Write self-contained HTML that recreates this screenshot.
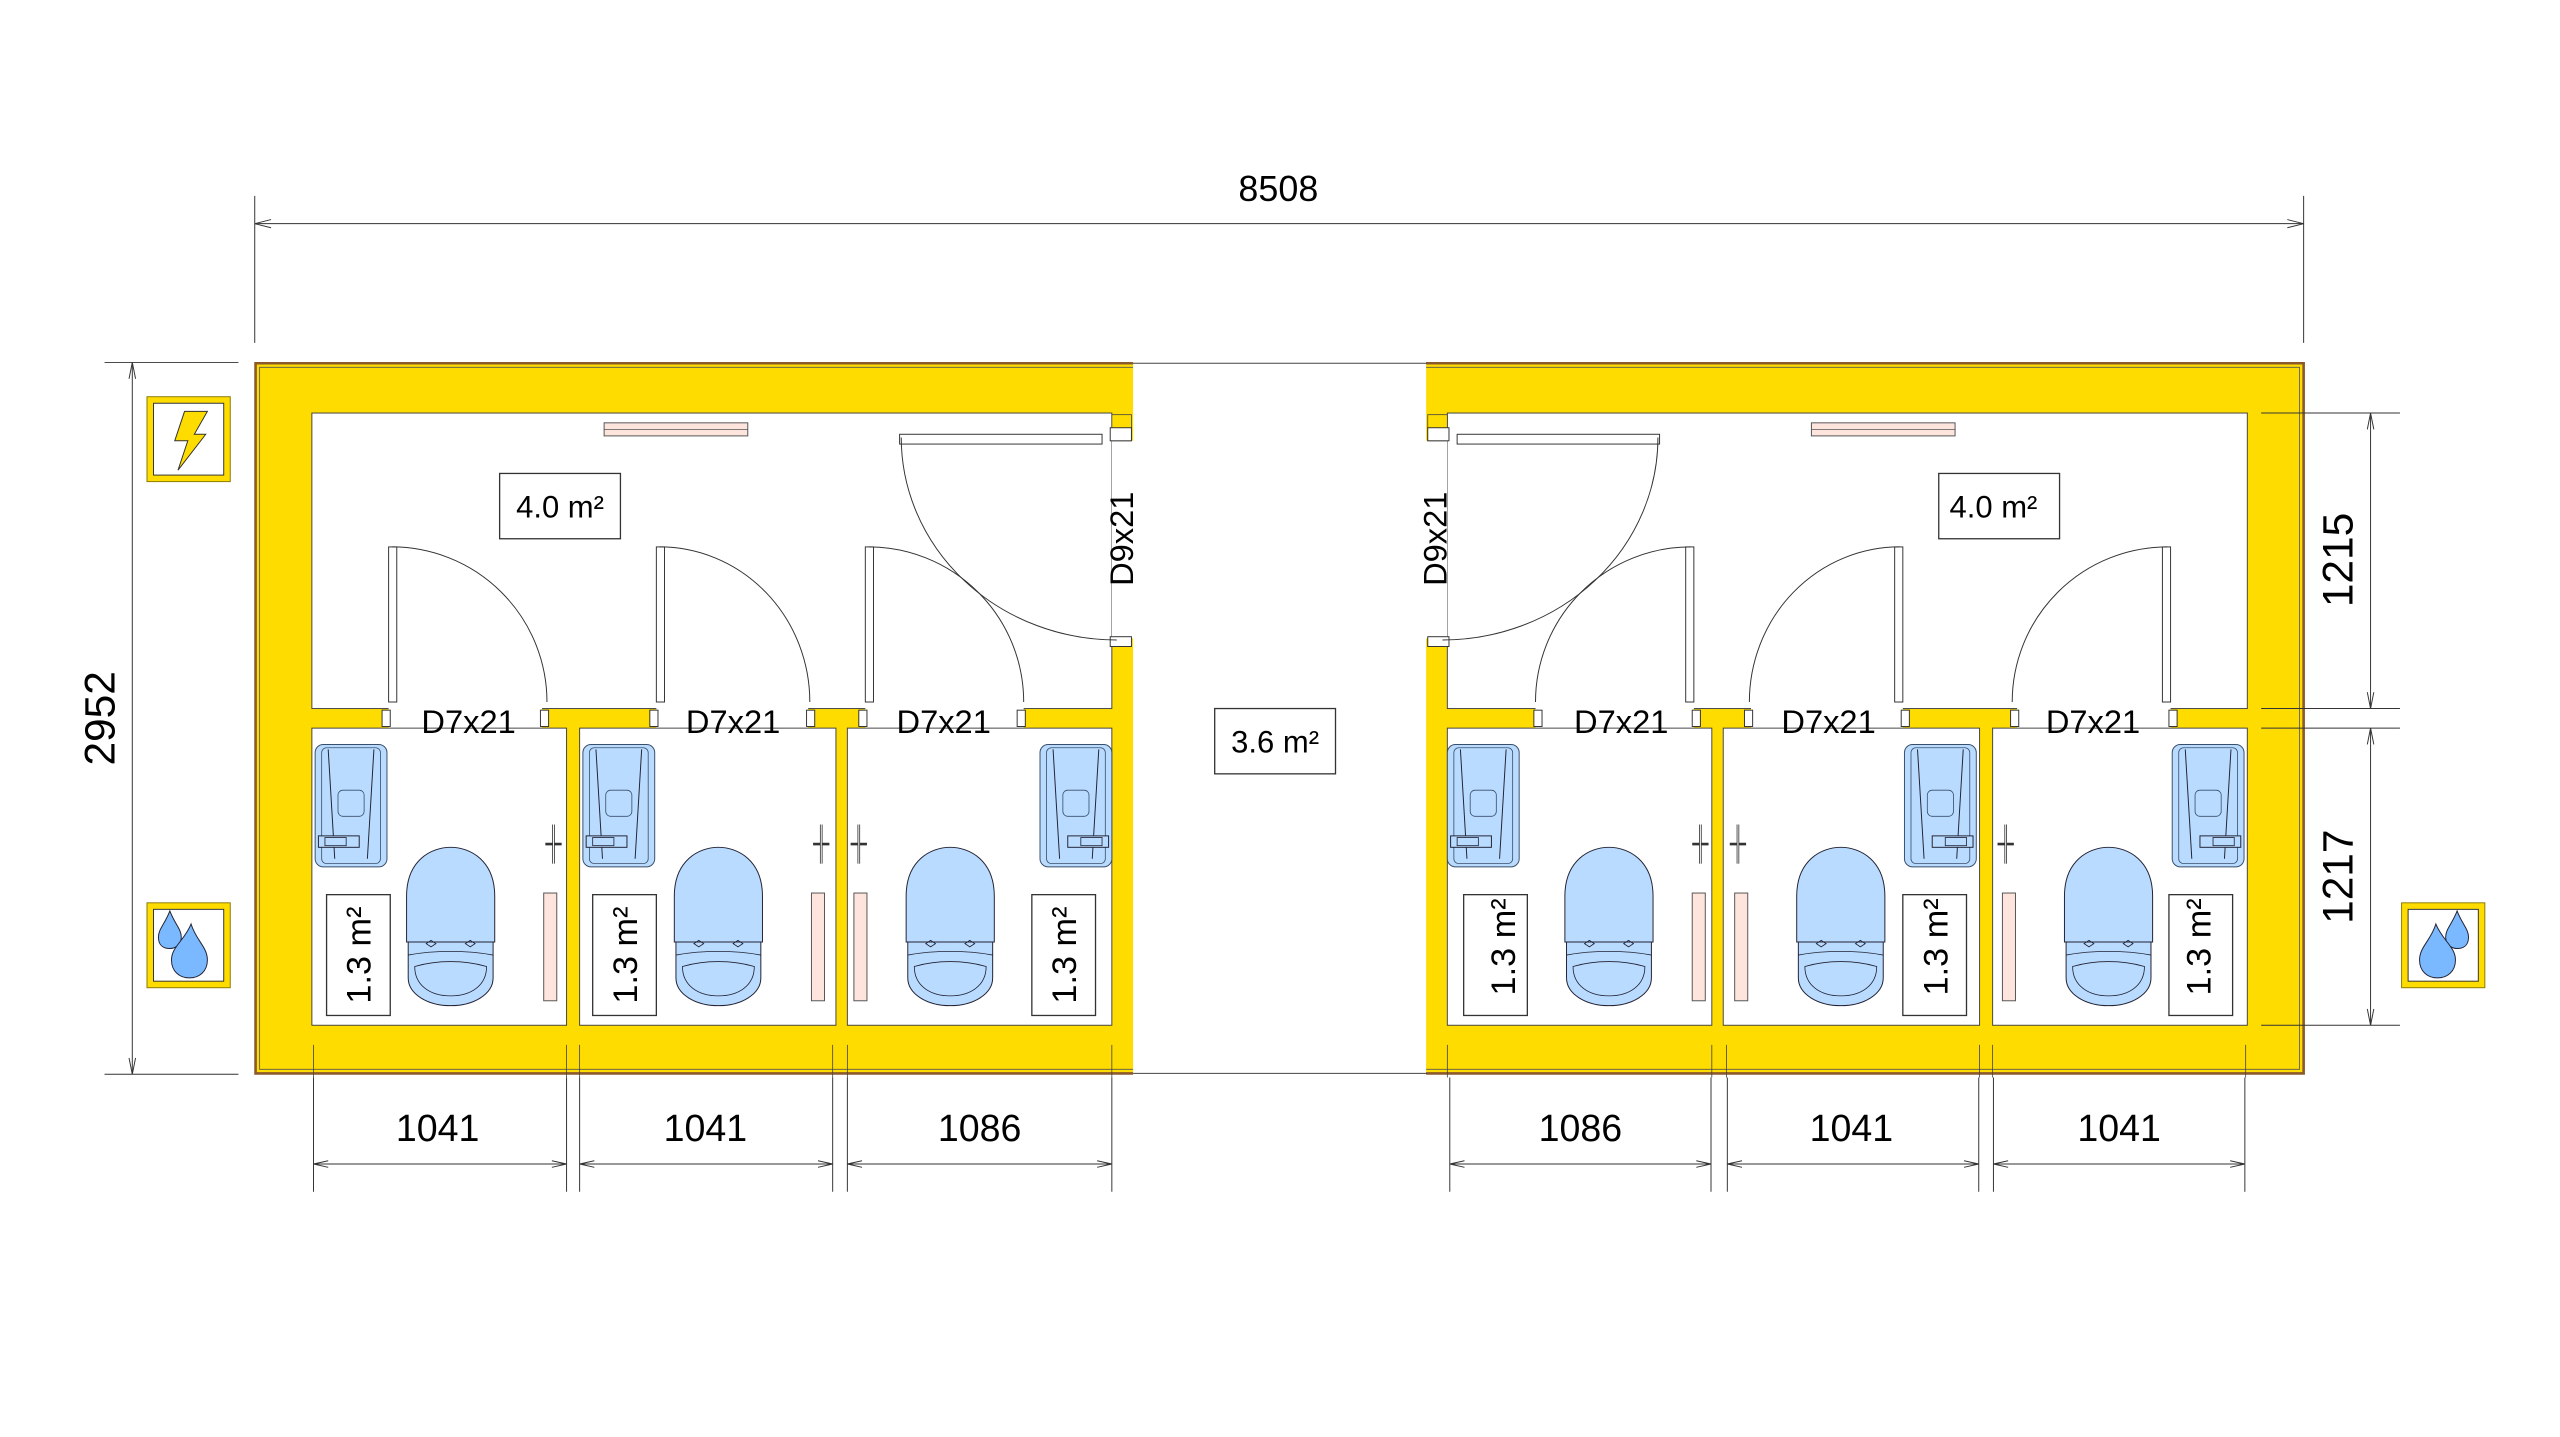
<!DOCTYPE html>
<html><head><meta charset="utf-8">
<style>
html,body{margin:0;padding:0;background:#fff;}
svg{display:block;}
text{font-family:"Liberation Sans",Arial,sans-serif;fill:#000;}
</style></head>
<body>
<svg width="2560" height="1437" viewBox="0 0 1568 880.2" xmlns="http://www.w3.org/2000/svg">
<defs>
  <g id="sink">
    <rect x="0" y="0" width="44" height="75" rx="5" fill="#b9dbff" stroke="#3a4f6a" stroke-width="0.6"/>
    <rect x="4" y="2" width="36" height="71" rx="3" fill="none" stroke="#3a4f6a" stroke-width="0.5"/>
    <path d="M8 3 L12 70 M36 3 L32 70" stroke="#223" stroke-width="0.6" fill="none"/>
    <rect x="14" y="28" width="16" height="16" rx="3" fill="#b9dbff" stroke="#3a4f6a" stroke-width="0.5"/>
    <rect x="2" y="56" width="25" height="7" fill="#b9dbff" stroke="#223" stroke-width="0.6"/>
    <rect x="6" y="57" width="13" height="5" fill="none" stroke="#223" stroke-width="0.5"/>
  </g>
  <g id="toilet">
    <path d="M-27 58 L-27 30 C-27 8 -12 0 0 0 C12 0 27 8 27 30 L27 58 Z" fill="#b9dbff" stroke="#223" stroke-width="0.6"/>
    <path d="M-26 58 L26 58 L26 80 C26 90 14 97 0 97 C-14 97 -26 90 -26 80 Z" fill="#b9dbff" stroke="#223" stroke-width="0.6"/>
    <path d="M-26 66 C-10 63 10 63 26 66" fill="none" stroke="#223" stroke-width="0.5"/>
    <path d="M-22 73 C-8 69 8 69 22 73 C22 85 12 91 0 91 C-12 91 -22 85 -22 73 Z" fill="none" stroke="#223" stroke-width="0.5"/>
    <path d="M-15 59 l3 -2 l3 2 l-3 2 z M9 59 l3 -2 l3 2 l-3 2 z" fill="none" stroke="#223" stroke-width="0.5"/>
  </g>
  <g id="hook">
    <path d="M0 -12 L0 12 M-5 0 L5 0" stroke="#333" stroke-width="1.6" fill="none"/>
    <path d="M0 -12 L0 12" stroke="#fff" stroke-width="0.6"/>
  </g>
  <g id="bldg">
    <rect x="156" y="222" width="538" height="436" fill="#ffdc00"/>
    <path d="M694 222.5 L156.5 222.5 L156.5 657.5 L694 657.5" fill="none" stroke="#8b5a2b" stroke-width="1.6"/>
    <path d="M694 225 L159 225 L159 655 L694 655" fill="none" stroke="#555" stroke-width="0.5"/>
    <rect x="191" y="253" width="490" height="181" fill="#fff" stroke="#444" stroke-width="0.6"/>
    <rect x="681" y="270" width="14" height="121" fill="#fff"/>
    <rect x="681" y="254" width="12" height="16" fill="#ffdc00" stroke="#444" stroke-width="0.5"/>
    <rect x="680" y="262" width="13" height="8" fill="#fff" stroke="#333" stroke-width="0.6"/>
    <rect x="680" y="390" width="13" height="6" fill="#fff" stroke="#333" stroke-width="0.6"/>
    <rect x="238" y="433" width="94" height="14" fill="#fff"/>
    <rect x="402" y="433" width="93" height="14" fill="#fff"/>
    <rect x="530" y="433" width="97" height="14" fill="#fff"/>
    <rect x="234" y="435" width="5" height="10" fill="#fff" stroke="#333" stroke-width="0.6"/>
    <rect x="331" y="435" width="5" height="10" fill="#fff" stroke="#333" stroke-width="0.6"/>
    <rect x="398" y="435" width="5" height="10" fill="#fff" stroke="#333" stroke-width="0.6"/>
    <rect x="494" y="435" width="5" height="10" fill="#fff" stroke="#333" stroke-width="0.6"/>
    <rect x="526" y="435" width="5" height="10" fill="#fff" stroke="#333" stroke-width="0.6"/>
    <rect x="623" y="435" width="5" height="10" fill="#fff" stroke="#333" stroke-width="0.6"/>
    <rect x="191" y="446" width="156" height="182" fill="#fff" stroke="#444" stroke-width="0.6"/>
    <rect x="355" y="446" width="157" height="182" fill="#fff" stroke="#444" stroke-width="0.6"/>
    <rect x="519" y="446" width="162" height="182" fill="#fff" stroke="#444" stroke-width="0.6"/>
    <path d="M192 640 V660 M347 640 V660 M355 640 V660 M510 640 V660 M519 640 V660 M681 640 V660" stroke="#444" stroke-width="0.5"/>
    <rect x="370" y="259" width="88" height="8" fill="#fde4dc" stroke="#555" stroke-width="0.6"/>
    <line x1="370" y1="263" x2="458" y2="263" stroke="#555" stroke-width="0.4"/>
    <rect x="238" y="335" width="5" height="95" fill="#fff" stroke="#333" stroke-width="0.6"/>
    <path d="M240 335 A95 95 0 0 1 335 430" fill="none" stroke="#333" stroke-width="0.6"/>
    <rect x="402" y="335" width="5" height="95" fill="#fff" stroke="#333" stroke-width="0.6"/>
    <path d="M404 335 A92 95 0 0 1 496 430" fill="none" stroke="#333" stroke-width="0.6"/>
    <rect x="530" y="335" width="5" height="95" fill="#fff" stroke="#333" stroke-width="0.6"/>
    <path d="M532 335 A95 95 0 0 1 627 430" fill="none" stroke="#333" stroke-width="0.6"/>
    <rect x="551" y="266" width="124" height="6" fill="#fff" stroke="#333" stroke-width="0.6"/>
    <path d="M552 268 A132 124 0 0 0 684 392" fill="none" stroke="#333" stroke-width="0.6"/>
    <use href="#sink" x="193" y="456"/>
    <use href="#sink" x="357" y="456"/>
    <g transform="translate(681 456) scale(-1 1)"><use href="#sink"/></g>
    <use href="#toilet" x="276" y="519"/>
    <use href="#toilet" x="440" y="519"/>
    <use href="#toilet" x="582" y="519"/>
    <use href="#hook" x="339" y="517"/>
    <use href="#hook" x="503" y="517"/>
    <use href="#hook" x="526" y="517"/>
    <rect x="333" y="547" width="8" height="66" fill="#fde4dc" stroke="#555" stroke-width="0.6"/>
    <rect x="497" y="547" width="8" height="66" fill="#fde4dc" stroke="#555" stroke-width="0.6"/>
    <rect x="523" y="547" width="8" height="66" fill="#fde4dc" stroke="#555" stroke-width="0.6"/>
    <rect x="306" y="290" width="74" height="40" fill="#fff" stroke="#333" stroke-width="0.8"/>
    <rect x="200" y="548" width="39" height="74" fill="#fff" stroke="#333" stroke-width="0.8"/>
    <rect x="363" y="548" width="39" height="74" fill="#fff" stroke="#333" stroke-width="0.8"/>
    <rect x="632" y="548" width="39" height="74" fill="#fff" stroke="#333" stroke-width="0.8"/>
  </g>
  <g id="drop">
    <path d="M-9 -10 C-12 -2 -16 1 -16 6 C-16 11 -13 13 -9 13 C-5 13 -2 10 -2 6 C-2 1 -6 -2 -9 -10 Z" fill="#7ab8ff" stroke="#223" stroke-width="0.6"/>
    <path d="M4 -2 C0 8 -8 12 -8 20 C-8 27 -3 31 3 31 C9 31 14 27 14 20 C14 12 7 8 4 -2 Z" fill="#7ab8ff" stroke="#223" stroke-width="0.6"/>
  </g>
</defs>

<use href="#bldg"/>
<g transform="matrix(-1 0 0 1 1567.5 0)"><use href="#bldg"/></g>

<path d="M694 222.5 H874 M694 657.5 H874" stroke="#444" stroke-width="0.6"/>

<path d="M156 120 V210 M1411 120 V210 M156 137 H1411" stroke="#333" stroke-width="0.6" fill="none"/>
<path d="M156 137 l10 -2.5 M156 137 l10 2.5 M1411 137 l-10 -2.5 M1411 137 l-10 2.5" stroke="#333" stroke-width="0.6"/>
<text x="783" y="123" font-size="22" text-anchor="middle">8508</text>

<path d="M64 222 H146 M64 658 H146 M81 222 V658" stroke="#333" stroke-width="0.6" fill="none"/>
<path d="M81 222 l-2 10 M81 222 l2 10 M81 658 l-2 -10 M81 658 l2 -10" stroke="#333" stroke-width="0.6"/>
<text transform="translate(70 440) rotate(-90)" font-size="26" text-anchor="middle">2952</text>

<path d="M1385 253 H1470 M1385 434 H1470 M1385 446 H1470 M1385 628 H1470 M1452 253 V434 M1452 446 V628" stroke="#333" stroke-width="0.6" fill="none"/>
<path d="M1452 253 l-2 10 M1452 253 l2 10 M1452 434 l-2 -10 M1452 434 l2 -10 M1452 446 l-2 10 M1452 446 l2 10 M1452 628 l-2 -10 M1452 628 l2 -10" stroke="#333" stroke-width="0.6"/>
<text transform="translate(1441 343) rotate(-90)" font-size="26" text-anchor="middle">1215</text>
<text transform="translate(1441 537) rotate(-90)" font-size="26" text-anchor="middle">1217</text>

<g stroke="#333" stroke-width="0.6" fill="none">
<path d="M192 660 V730 M347 660 V730 M355 660 V730 M510 660 V730 M519 660 V730 M681 660 V730"/>
<path d="M888 660 V730 M1048 660 V730 M1058 660 V730 M1212 660 V730 M1221 660 V730 M1375 660 V730"/>
<path d="M192 713 H347 M355 713 H510 M519 713 H681 M888 713 H1048 M1058 713 H1212 M1221 713 H1375"/>
<path d="M192 713 l9 -2 M192 713 l9 2 M347 713 l-9 -2 M347 713 l-9 2 M355 713 l9 -2 M355 713 l9 2 M510 713 l-9 -2 M510 713 l-9 2 M519 713 l9 -2 M519 713 l9 2 M681 713 l-9 -2 M681 713 l-9 2"/>
<path d="M888 713 l9 -2 M888 713 l9 2 M1048 713 l-9 -2 M1048 713 l-9 2 M1058 713 l9 -2 M1058 713 l9 2 M1212 713 l-9 -2 M1212 713 l-9 2 M1221 713 l9 -2 M1221 713 l9 2 M1375 713 l-9 -2 M1375 713 l-9 2"/>
</g>
<g font-size="23" text-anchor="middle">
<text x="268" y="699">1041</text>
<text x="432" y="699">1041</text>
<text x="600" y="699">1086</text>
<text x="968" y="699">1086</text>
<text x="1134" y="699">1041</text>
<text x="1298" y="699">1041</text>
</g>

<g font-size="19" text-anchor="middle">
<text x="343" y="317">4.0 m²</text>
<text x="1221" y="317">4.0 m²</text>
</g>
<rect x="744" y="434" width="74" height="40" fill="#fff" stroke="#333" stroke-width="0.8"/>
<text x="781" y="461" font-size="19" text-anchor="middle">3.6 m²</text>

<g font-size="20" text-anchor="middle">
<text x="287" y="449">D7x21</text>
<text x="449" y="449">D7x21</text>
<text x="578" y="449">D7x21</text>
<text x="993" y="449">D7x21</text>
<text x="1120" y="449">D7x21</text>
<text x="1282" y="449">D7x21</text>
</g>
<text transform="translate(694 330) rotate(-90)" font-size="20" text-anchor="middle">D9x21</text>
<text transform="translate(886 330) rotate(-90)" font-size="20" text-anchor="middle">D9x21</text>

<g font-size="21" text-anchor="middle">
<text transform="translate(227 585) rotate(-90)">1.3 m²</text>
<text transform="translate(390 585) rotate(-90)">1.3 m²</text>
<text transform="translate(659 585) rotate(-90)">1.3 m²</text>
<text transform="translate(928 580) rotate(-90)">1.3 m²</text>
<text transform="translate(1193 580) rotate(-90)">1.3 m²</text>
<text transform="translate(1354 580) rotate(-90)">1.3 m²</text>
</g>

<rect x="90" y="243" width="51" height="52" fill="#ffdc00" stroke="#8a7a00" stroke-width="0.6"/>
<rect x="94" y="247" width="43" height="44" fill="#fff" stroke="#333" stroke-width="0.6"/>
<path d="M113 252 L127 252 L119 266 L126 266 L109 288 L115 270 L107 270 Z" fill="#ffdc00" stroke="#333" stroke-width="0.6"/>

<rect x="90" y="553" width="51" height="52" fill="#ffdc00" stroke="#8a7a00" stroke-width="0.6"/>
<rect x="94" y="557" width="43" height="44" fill="#fff" stroke="#333" stroke-width="0.6"/>
<use href="#drop" x="113" y="568"/>

<rect x="1471" y="553" width="51" height="52" fill="#ffdc00" stroke="#8a7a00" stroke-width="0.6"/>
<rect x="1475" y="557" width="43" height="44" fill="#fff" stroke="#333" stroke-width="0.6"/>
<g transform="translate(1496 568) scale(-1 1)"><use href="#drop"/></g>
</svg>
</body></html>
